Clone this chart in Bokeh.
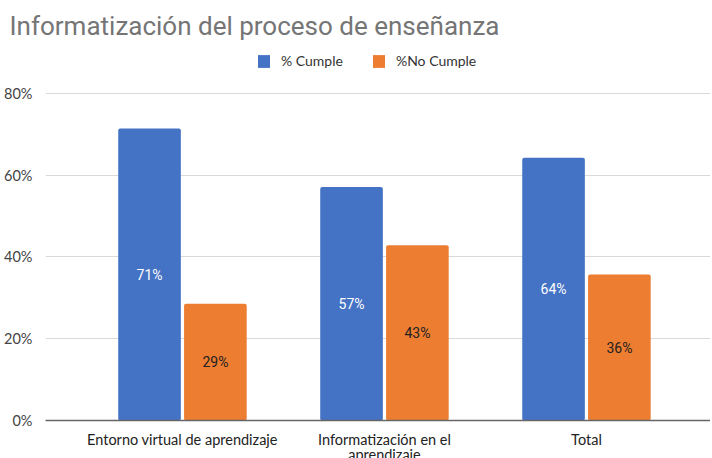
from bokeh.plotting import figure
from bokeh.models import ColumnDataSource, Legend, LegendItem, FixedTicker, PrintfTickFormatter, Range1d, LabelSet
from bokeh.embed import file_html
from bokeh.resources import INLINE
from bokeh.core.properties import value

categories = ["Entorno virtual de aprendizaje", "Informatización en el\naprendizaje", "Total"]
series_names = ["% Cumple", "%No Cumple"]
cumple = [71.43, 57.14, 64.29]
no_cumple = [28.57, 42.86, 35.71]
y_ticks = [0, 20, 40, 60, 80]

BLUE = "#4472C4"
ORANGE = "#ED7D31"

xs = list(range(len(categories)))
off = 0.163
bw = 0.31

src1 = ColumnDataSource(dict(x=[i - off for i in xs], top=cumple, mid=[v / 2 for v in cumple],
                             lab=[f"{round(v)}%" for v in cumple]))
src2 = ColumnDataSource(dict(x=[i + off for i in xs], top=no_cumple, mid=[v / 2 for v in no_cumple],
                             lab=[f"{round(v)}%" for v in no_cumple]))

p = figure(frame_width=665, frame_height=373, output_backend="svg", toolbar_location=None,
           x_range=Range1d(-0.678, 2.614), y_range=Range1d(0, 91.25),
           min_border_left=45, min_border_right=0, min_border_top=47, min_border_bottom=20)
p.outline_line_color = None

p.title.text = "Informatización del proceso de enseñanza"
p.title.text_font = "Roboto"
p.title.text_font_size = "26px"
p.title.text_font_style = "normal"
p.title.text_color = "#757575"
p.title.offset = -36
p.title.standoff = 13

r1 = p.vbar(x="x", top="top", width=bw, source=src1, fill_color=BLUE, line_color=None, border_radius=2)
r2 = p.vbar(x="x", top="top", width=bw, source=src2, fill_color=ORANGE, line_color=None, border_radius=2)

p.add_layout(LabelSet(x="x", y="mid", text="lab", source=src1, text_align="center", text_baseline="middle",
                      text_font=value("Roboto"), text_font_size="14px", text_color="white"))
p.add_layout(LabelSet(x="x", y="mid", text="lab", source=src2, text_align="center", text_baseline="middle",
                      text_font=value("Roboto"), text_font_size="14px", text_color="#222222"))

p.yaxis.ticker = FixedTicker(ticks=y_ticks)
p.yaxis.formatter = PrintfTickFormatter(format="%d%%")
p.yaxis.axis_line_color = None
p.yaxis.major_tick_line_color = None
p.yaxis.minor_tick_line_color = None
p.yaxis.major_label_text_font = "Lato"
p.yaxis.major_label_text_font_size = "14.5px"
p.yaxis.major_label_text_color = "#444444"
p.yaxis.major_label_standoff = 7

p.xaxis.ticker = FixedTicker(ticks=xs)
p.xaxis.major_label_overrides = {i: c for i, c in enumerate(categories)}
p.xaxis.axis_line_color = "#666666"
p.xaxis.axis_line_width = 1.5
p.xaxis.major_tick_line_color = None
p.xaxis.minor_tick_line_color = None
p.xaxis.major_label_text_font = "Lato"
p.xaxis.major_label_text_font_size = "14.5px"
p.xaxis.major_label_text_line_height = 0.9
p.xaxis.major_label_text_color = "#222222"
p.xaxis.major_label_standoff = 4

p.xgrid.grid_line_color = None
p.ygrid.ticker = FixedTicker(ticks=y_ticks)
p.ygrid.grid_line_color = "#d9d9d9"

legend = Legend(items=[LegendItem(label=series_names[0], renderers=[r1]),
                       LegendItem(label=series_names[1], renderers=[r2])],
                orientation="horizontal", location=(211, 351),
                glyph_width=15, glyph_height=16, label_standoff=10, spacing=28,
                padding=0, margin=0, border_line_color=None, background_fill_alpha=0,
                label_text_font="Lato", label_text_font_size="14px", label_text_color="#333333")
p.add_layout(legend)

open("out.html", "w").write(file_html(p, INLINE))
